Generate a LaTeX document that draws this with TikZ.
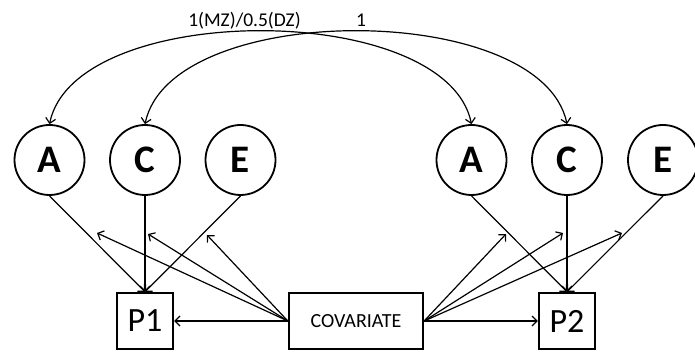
\documentclass[tikz,border=0pt]{standalone}
\usepackage{fontspec}
\setmainfont{Carlito}
\usetikzlibrary{arrows.meta}
\begin{document}
\begin{tikzpicture}[x=1pt,y=-1pt,
  >={Straight Barb[length=5pt,width=10pt]},
  latent/.style={circle,draw,line width=1.8pt,minimum size=70pt,inner sep=0pt,
    font=\fontsize{39}{39}\selectfont\bfseries},
  observed/.style={rectangle,draw,line width=1.8pt,minimum width=56.5pt,
    minimum height=56.5pt,inner sep=0pt,font=\fontsize{34}{34}\selectfont},
  conn/.style={line width=1.2pt,->},
  corr/.style={line width=1.2pt,<->},
  lbl/.style={font=\fontsize{19.5}{19.5}\selectfont,anchor=base,inner sep=0pt}]
\useasboundingbox (0,0) rectangle (695,352);

% latent factors of twin 1 and twin 2
\node[latent] (A1) at (49.5,160) {A};
\node[latent] (C1) at (145,160) {C};
\node[latent] (E1) at (240.5,160) {E};
\node[latent] (A2) at (471.5,160) {A};
\node[latent] (C2) at (567,160) {C};
\node[latent] (E2) at (663,160) {E};

% observed phenotypes and covariate
\node[observed] (P1) at (145,321) {P1};
\node[observed] (P2) at (567,321) {P2};
\node[observed,minimum width=134.5pt,font=\fontsize{20}{20}\selectfont] (COV) at (356,321) {COVARIATE};

% factor loadings
\foreach \s/\t in {A1/P1,C1/P1,E1/P1,A2/P2,C2/P2,E2/P2}
  \draw[conn] (\s.south) -- (\t.north);

% covariate moderation of each path
\coordinate (mA1) at (97,233);
\coordinate (mC1) at (148,234);
\coordinate (mE1) at (207,235);
\coordinate (mA2) at (506,234);
\coordinate (mC2) at (563,233);
\coordinate (mE2) at (622,233);
\foreach \m in {mA1,mC1,mE1} \draw[conn] (COV.west) -- (\m);
\foreach \m in {mA2,mC2,mE2} \draw[conn] (COV.east) -- (\m);
\draw[conn] (COV.west) -- (P1.east);
\draw[conn] (COV.east) -- (P2.west);

% twin correlations
\draw[corr] (A1.north) .. controls (75,0) and (446,0) .. (A2.north);
\draw[corr] (C1.north) .. controls (171,0) and (541,0) .. (C2.north);
\node[lbl] (rA) at (244.5,27) {1(MZ)/0.5(DZ)};
\node[lbl] (rC) at (361,27) {1};
\end{tikzpicture}
\end{document}
